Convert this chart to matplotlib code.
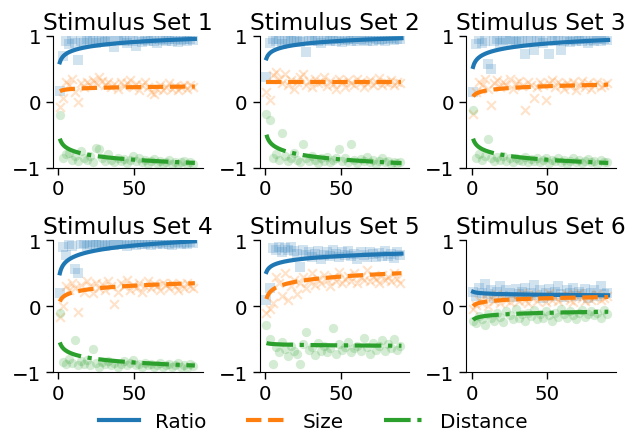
import numpy as np
import matplotlib
matplotlib.use("Agg")
import matplotlib.pyplot as plt

titles = ["Stimulus Set 1", "Stimulus Set 2", "Stimulus Set 3",
          "Stimulus Set 4", "Stimulus Set 5", "Stimulus Set 6"]
measures = ["Ratio", "Size", "Distance"]
trials = list(range(1, 90, 2))

ratio_pts = [
    [0.17, 0.70, 0.92, 0.88, 0.95, 0.90, 0.63, 0.93, 0.90, 0.95,
     0.92, 0.94, 0.90, 0.96, 0.93, 0.91, 0.95, 0.92, 0.83, 0.94,
     0.96, 0.93, 0.90, 0.95, 0.93, 0.85, 0.96, 0.91, 0.94, 0.92,
     0.95, 0.93, 0.90, 0.96, 0.94, 0.92, 0.95, 0.93, 0.96, 0.91,
     0.94, 0.96, 0.93, 0.95, 0.94],
    [0.38, 0.90, 0.95, 0.92, 0.96, 0.88, 0.94, 0.92, 0.96, 0.93,
     0.95, 0.91, 0.94, 0.76, 0.96, 0.93, 0.95, 0.92, 0.90, 0.96,
     0.94, 0.92, 0.95, 0.93, 0.96, 0.91, 0.94, 0.96, 0.93, 0.95,
     0.92, 0.96, 0.94, 0.93, 0.97, 0.92, 0.95, 0.94, 0.96, 0.93,
     0.95, 0.97, 0.94, 0.96, 0.95],
    [0.15, 0.88, 0.95, 0.90, 0.93, 0.58, 0.50, 0.92, 0.95, 0.90,
     0.94, 0.96, 0.92, 0.95, 0.91, 0.93, 0.96, 0.73, 0.94, 0.92,
     0.78, 0.95, 0.93, 0.90, 0.96, 0.73, 0.94, 0.92, 0.95, 0.78,
     0.93, 0.96, 0.91, 0.94, 0.92, 0.95, 0.93, 0.96, 0.90, 0.94,
     0.92, 0.95, 0.93, 0.96, 0.94],
    [0.20, 0.90, 0.78, 0.95, 0.92, 0.57, 0.50, 0.94, 0.96, 0.92,
     0.95, 0.97, 0.93, 0.96, 0.94, 0.92, 0.97, 0.95, 0.93, 0.96,
     0.94, 0.97, 0.92, 0.95, 0.96, 0.93, 0.97, 0.95, 0.94, 0.96,
     0.93, 0.97, 0.95, 0.96, 0.94, 0.97, 0.95, 0.93, 0.96, 0.97,
     0.95, 0.96, 0.94, 0.97, 0.96],
    [0.09, 0.27, 0.88, 0.85, 0.90, 0.82, 0.88, 0.86, 0.90, 0.84,
     0.80, 0.60, 0.85, 0.78, 0.82, 0.75, 0.80, 0.84, 0.72, 0.78,
     0.82, 0.76, 0.85, 0.79, 0.74, 0.82, 0.78, 0.84, 0.76, 0.80,
     0.72, 0.82, 0.78, 0.75, 0.83, 0.79, 0.74, 0.81, 0.77, 0.84,
     0.76, 0.80, 0.73, 0.82, 0.78],
    [0.22, 0.15, 0.28, 0.20, 0.34, 0.18, 0.25, 0.12, 0.22, 0.30,
     0.16, 0.24, 0.20, 0.14, 0.26, 0.18, 0.22, 0.28, 0.15, 0.20,
     0.32, 0.17, 0.24, 0.12, 0.20, 0.26, 0.16, 0.22, 0.30, 0.18,
     0.14, 0.24, 0.20, 0.28, 0.16, 0.22, 0.18, 0.26, 0.12, 0.20,
     0.24, 0.16, 0.30, 0.18, 0.20],
]

size_pts = [
    [-0.08, 0.05, 0.30, 0.25, 0.35, 0.15, 0.00, 0.28, 0.22, 0.30,
     0.25, 0.33, 0.28, 0.38, 0.32, 0.25, 0.30, 0.22, 0.27, 0.20,
     0.30, 0.24, 0.28, 0.33, 0.22, 0.27, 0.18, 0.25, 0.30, 0.22,
     0.15, 0.12, 0.20, 0.25, 0.18, 0.22, 0.28, 0.20, 0.24, 0.18,
     0.22, 0.26, 0.20, 0.25, 0.22],
    [0.15, 0.02, 0.40, 0.45, 0.35, 0.28, 0.42, 0.25, 0.33, 0.20,
     0.30, 0.38, 0.42, 0.26, 0.32, 0.22, 0.35, 0.28, 0.30, 0.38,
     0.24, 0.32, 0.27, 0.20, 0.35, 0.30, 0.22, 0.33, 0.28, 0.25,
     0.35, 0.30, 0.22, 0.28, 0.33, 0.26, 0.30, 0.36, 0.25, 0.30,
     0.28, 0.33, 0.25, 0.30, 0.28],
    [-0.18, 0.15, 0.30, 0.25, 0.35, 0.20, -0.05, 0.28, 0.33, 0.22,
     0.30, 0.25, 0.35, 0.20, 0.28, 0.32, 0.24, -0.12, 0.30, 0.26,
     0.05, 0.22, 0.30, 0.25, 0.02, 0.28, 0.33, 0.22, 0.30, 0.25,
     0.20, 0.28, 0.24, 0.30, 0.18, 0.25, 0.32, 0.22, 0.28, 0.20,
     0.26, 0.30, 0.22, 0.25, 0.28],
    [-0.16, 0.00, 0.30, 0.25, 0.35, 0.28, -0.09, 0.32, 0.22, 0.38,
     0.30, 0.20, 0.35, 0.28, 0.33, 0.25, 0.38, 0.30, 0.04, 0.22,
     0.35, 0.30, 0.40, 0.25, 0.32, 0.28, 0.36, 0.22, 0.30, 0.38,
     0.27, 0.33, 0.30, 0.25, 0.35, 0.32, 0.28, 0.36, 0.30, 0.25,
     0.33, 0.28, 0.35, 0.30, 0.27],
    [-0.11, -0.05, 0.05, 0.45, 0.35, 0.15, 0.50, 0.10, 0.30, 0.40,
     0.18, 0.35, 0.45, 0.28, 0.38, 0.50, 0.32, 0.42, 0.36, 0.48,
     0.40, 0.30, 0.44, 0.38, 0.52, 0.35, 0.42, 0.46, 0.38, 0.50,
     0.36, 0.44, 0.40, 0.55, 0.38, 0.46, 0.42, 0.35, 0.48, 0.40,
     0.44, 0.38, 0.50, 0.42, 0.36],
    [-0.05, 0.02, 0.10, 0.05, 0.15, 0.00, 0.12, 0.08, 0.18, 0.05,
     0.14, 0.10, 0.06, 0.16, 0.12, 0.08, 0.20, 0.10, 0.05, 0.14,
     0.18, 0.08, 0.12, 0.15, 0.06, 0.20, 0.10, 0.14, 0.08, 0.16,
     0.12, 0.18, 0.10, 0.06, 0.15, 0.20, 0.12, 0.08, 0.16, 0.10,
     0.14, 0.18, 0.10, 0.12, 0.15],
]

dist_pts = [
    [-0.20, -0.85, -0.80, -0.78, -0.88, -0.82, -0.90, -0.75, -0.85, -0.88,
     -0.82, -0.92, -0.70, -0.72, -0.85, -0.90, -0.80, -0.88, -0.92, -0.85,
     -0.90, -0.87, -0.93, -0.88, -0.82, -0.90, -0.86, -0.92, -0.88, -0.95,
     -0.90, -0.87, -0.93, -0.90, -0.95, -0.92, -0.88, -0.94, -0.91, -0.95,
     -0.92, -0.90, -0.94, -0.92, -0.95],
    [-0.18, -0.27, -0.85, -0.80, -0.88, -0.47, -0.82, -0.90, -0.86, -0.78,
     -0.88, -0.92, -0.64, -0.85, -0.90, -0.82, -0.88, -0.93, -0.86, -0.90,
     -0.84, -0.92, -0.88, -0.85, -0.71, -0.90, -0.86, -0.92, -0.64, -0.88,
     -0.93, -0.87, -0.90, -0.84, -0.92, -0.88, -0.95, -0.90, -0.86, -0.92,
     -0.90, -0.94, -0.91, -0.93, -0.92],
    [-0.13, -0.85, -0.80, -0.88, -0.82, -0.56, -0.86, -0.90, -0.84, -0.88,
     -0.82, -0.90, -0.86, -0.92, -0.85, -0.88, -0.90, -0.84, -0.92, -0.87,
     -0.90, -0.85, -0.92, -0.88, -0.86, -0.93, -0.88, -0.90, -0.85, -0.92,
     -0.88, -0.94, -0.90, -0.86, -0.92, -0.89, -0.93, -0.90, -0.87, -0.92,
     -0.90, -0.94, -0.88, -0.92, -0.91],
    [-0.11, -0.85, -0.88, -0.80, -0.86, -0.52, -0.90, -0.84, -0.88, -0.82,
     -0.90, -0.65, -0.86, -0.92, -0.85, -0.88, -0.84, -0.90, -0.86, -0.92,
     -0.88, -0.84, -0.90, -0.87, -0.82, -0.90, -0.88, -0.92, -0.86, -0.90,
     -0.88, -0.93, -0.89, -0.86, -0.92, -0.90, -0.88, -0.93, -0.90, -0.87,
     -0.92, -0.90, -0.94, -0.88, -0.91],
    [-0.28, -0.50, -0.88, -0.62, -0.70, -0.55, -0.65, -0.75, -0.60, -0.68,
     -0.72, -0.88, -0.58, -0.39, -0.66, -0.62, -0.74, -0.56, -0.68, -0.60,
     -0.70, -0.64, -0.33, -0.72, -0.58, -0.66, -0.62, -0.55, -0.70, -0.64,
     -0.60, -0.68, -0.48, -0.62, -0.72, -0.56, -0.66, -0.60, -0.52, -0.68,
     -0.58, -0.64, -0.50, -0.66, -0.60],
    [-0.22, -0.25, -0.15, -0.20, -0.28, -0.12, -0.18, -0.22, -0.10, -0.16,
     -0.24, -0.08, -0.14, -0.20, -0.05, -0.18, -0.12, -0.22, -0.10, -0.15,
     -0.06, -0.20, -0.12, -0.18, -0.08, -0.14, -0.22, -0.10, -0.16, -0.04,
     -0.12, -0.18, -0.08, -0.14, -0.20, -0.10, -0.06, -0.16, -0.12, -0.08,
     -0.14, -0.10, -0.18, -0.06, -0.12],
]

# logarithmic fit curves: y = a + b * ln(trial)
ratio_a = [0.60, 0.66, 0.53, 0.50, 0.52, 0.22]
ratio_b = [0.079, 0.068, 0.091, 0.108, 0.062, -0.012]
size_a = [0.16, 0.30, 0.08, 0.07, 0.11, 0.00]
size_b = [0.016, 0.0, 0.04, 0.062, 0.087, 0.031]
dist_a = [-0.56, -0.50, -0.56, -0.55, -0.56, -0.21]
dist_b = [-0.082, -0.096, -0.082, -0.078, -0.009, 0.028]

colors = ["#1f77b4", "#ff7f0e", "#2ca02c"]
markers = ["s", "x", "o"]
styles = ["-", "--", "-."]

plt.rcParams["font.family"] = ["DejaVu Sans"]
fig, axes = plt.subplots(2, 3, figsize=(6.39, 4.35), dpi=100)
fig.subplots_adjust(left=0.083, right=0.964, top=0.915, bottom=0.1425,
                    wspace=0.38, hspace=0.553)

xfit = np.linspace(1, 90, 200)
handles = []
for k, ax in enumerate(axes.flat):
    pts = [ratio_pts[k], size_pts[k], dist_pts[k]]
    coef = [(ratio_a[k], ratio_b[k]), (size_a[k], size_b[k]), (dist_a[k], dist_b[k])]
    for j in range(3):
        if markers[j] == "x":
            ax.scatter(trials, pts[j], marker="x", s=40, color=colors[j],
                       alpha=0.22, linewidths=1.5)
        else:
            ax.scatter(trials, pts[j], marker=markers[j], s=45, color=colors[j],
                       alpha=0.2, linewidths=0)
    for j in range(3):
        a, b = coef[j]
        ln, = ax.plot(xfit, a + b * np.log(xfit), color=colors[j], ls=styles[j],
                      lw=3, label=measures[j])
        if k == 0:
            handles.append(ln)
    ax.set_xlim(-3.5, 95.2)
    ax.set_ylim(-1, 1)
    ax.set_xticks([0, 50])
    ax.set_yticks([-1, 0, 1])
    ax.tick_params(labelsize=14.3, length=5, width=1)
    ax.spines["top"].set_visible(False)
    ax.spines["right"].set_visible(False)
    ax.set_title(titles[k], fontsize=16.8, pad=5)

fig.legend(handles, measures, loc="lower center", bbox_to_anchor=(0.49, -0.035),
           ncol=3, frameon=False, fontsize=14.4, columnspacing=2.0)

fig.savefig("out.png", dpi=100)
